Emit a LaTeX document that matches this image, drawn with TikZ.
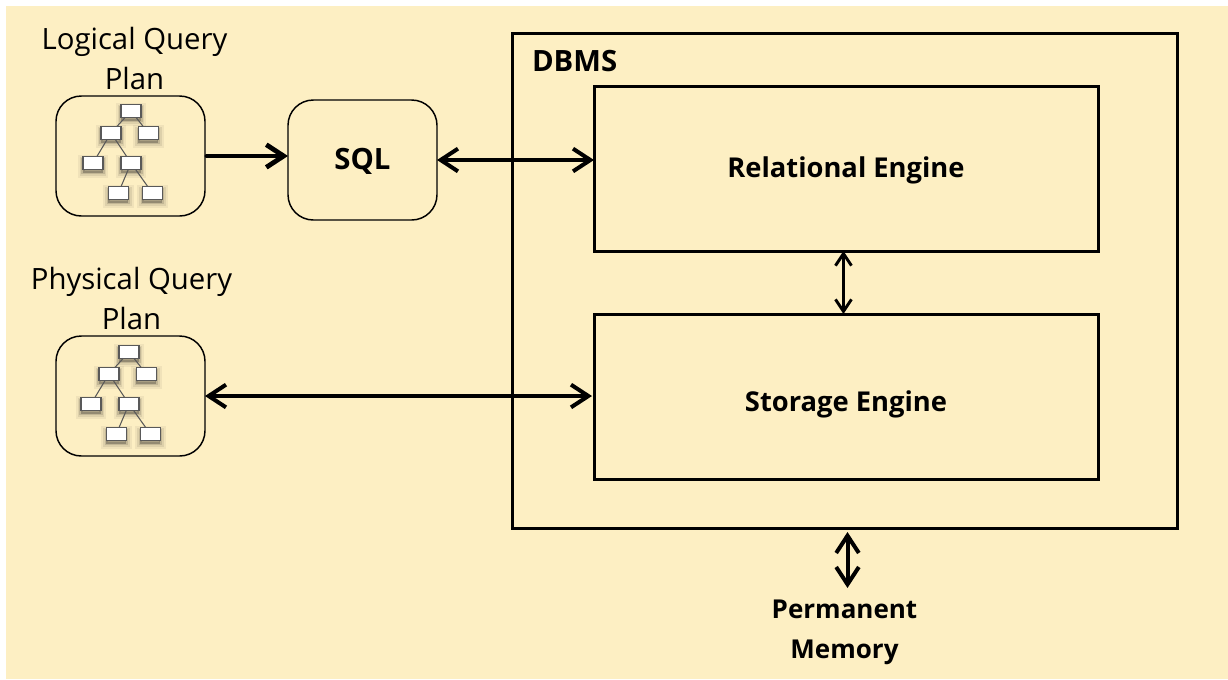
\documentclass[tikz,border=0pt]{standalone}
\usepackage{fontspec}
\setmainfont{Open Sans}
\usepackage{xcolor}
\usetikzlibrary{positioning,arrows.meta}
\definecolor{cream}{RGB}{253,239,195}
\tikzset{
    softshadow/.style={
        preaction={draw=black,fill=black,opacity=.05,line width=8pt,transform canvas={yshift=-2.5pt}},
        preaction={draw=black,fill=black,opacity=.08,line width=5pt,transform canvas={yshift=-2.5pt}},
        preaction={draw=black,fill=black,opacity=.12,line width=2.5pt,transform canvas={yshift=-2.5pt}}},
    treebox/.style={rectangle, draw=black!65, line width=.8pt, fill=white, minimum width=15pt, minimum height=9.5pt, inner sep=0pt, softshadow},
    treeline/.style={draw=black!65, line width=.8pt},
    plantree/.pic={
        \node (-a) [treebox] at (0,0) {};
        \node (-b) [treebox] at (-15pt,-16.5pt) {};
        \node (-c) [treebox] at (13pt,-16.5pt) {};
        \node (-d) [treebox] at (-28.5pt,-39pt) {};
        \node (-e) [treebox] at (0,-39pt) {};
        \node (-f) [treebox] at (-9.5pt,-61.5pt) {};
        \node (-g) [treebox] at (16pt,-61.5pt) {};
        \draw[treeline] (-a) -- (-b);
        \draw[treeline] (-a) -- (-c);
        \draw[treeline] (-b) -- (-d);
        \draw[treeline] (-b) -- (-e);
        \draw[treeline] (-e) -- (-f);
        \draw[treeline] (-e) -- (-g);
    }
}
\begin{document}
\begin{tikzpicture}[node distance=0 cm,outer sep = 0pt]
    \tikzstyle{engine} = [rectangle, minimum width=378pt, minimum height=123.75pt, draw=black, line width=2.25pt, text depth=5pt, font=\fontsize{20.5}{30}\selectfont\bfseries]
    \tikzstyle{planbox} = [rectangle, rounded corners=19pt, minimum width=111.75pt, minimum height=90pt, draw=black, line width=1.1pt]
    \tikzstyle{caption} = [align=center, inner sep=0pt, font=\fontsize{22}{30}\selectfont]
    \tikzstyle{bigarrow} = [{Straight Barb[length=13pt,width=17pt]}-{Straight Barb[length=13pt,width=17pt]}, line width=3pt, line cap=round]
    \useasboundingbox (0,0) rectangle (921pt,-509.25pt);
    \fill[cream] (4.5pt,-4.5pt) rectangle (921pt,-509.25pt);
    \node (dbms)  [anchor=north west, rectangle, draw=black, line width=2.25pt, minimum width=498.75pt, minimum height=371.25pt] at (384pt,-24.75pt) {};
    \node (dbmstext) [below right=13pt and 15pt of dbms.north west, anchor=north west, inner sep=0pt, font=\fontsize{22}{30}\selectfont\bfseries] {DBMS};
    \node (rel)  [engine, text height=18.4pt, below right=39.75pt and 61.5pt of dbms.north west, anchor=north west] {Relational Engine};
    \node (storage)  [engine, text height=27.4pt, below=47.25pt of rel] {Storage Engine};
    \node (lplan)  [planbox, anchor=north west] at (42pt,-72pt) {};
    \node (pplan)  [planbox, below=90pt of lplan] {};
    \node (sql)  [planbox, anchor=north west, text height=19pt, text depth=5pt, font=\fontsize{22}{30}\selectfont\bfseries] at (216pt,-75pt) {SQL};
    \node (ltitle)  [caption, above=4.5pt of lplan, xshift=3pt] {Logical Query\\Plan};
    \node (ptitle)  [caption, above=4.5pt of pplan, xshift=.75pt] {Physical Query\\Plan};
    \node (memory)  [caption, below=54pt of dbms, font=\fontsize{19.5}{30}\selectfont\bfseries] {Permanent\\Memory};
    \pic (ltree) at (98.25pt,-83.25pt) {plantree};
    \pic (ptree) at (96.75pt,-264pt) {plantree};
    \draw[-{Straight Barb[length=13pt,width=17pt]}, line width=3.6pt, line cap=round] ([xshift=1.5pt]lplan.east) -- (lplan.east -| sql.west);
    \draw[bigarrow] (sql.east) -- (sql.east -| rel.west);
    \draw[bigarrow,shorten >=1.5pt] (pplan.east) -- (pplan.east -| storage.west);
    \draw[{Straight Barb[length=9pt,width=12pt]}-{Straight Barb[length=9pt,width=12pt]}, line width=2.2pt, line cap=round] ([xshift=-1.9pt]rel.south) -- ([xshift=-1.9pt]storage.north);
    \draw[bigarrow,shorten <=3pt] ([xshift=2.25pt]dbms.south) -- ([xshift=2.25pt,yshift=9pt]memory.north);
\end{tikzpicture}
\end{document}
